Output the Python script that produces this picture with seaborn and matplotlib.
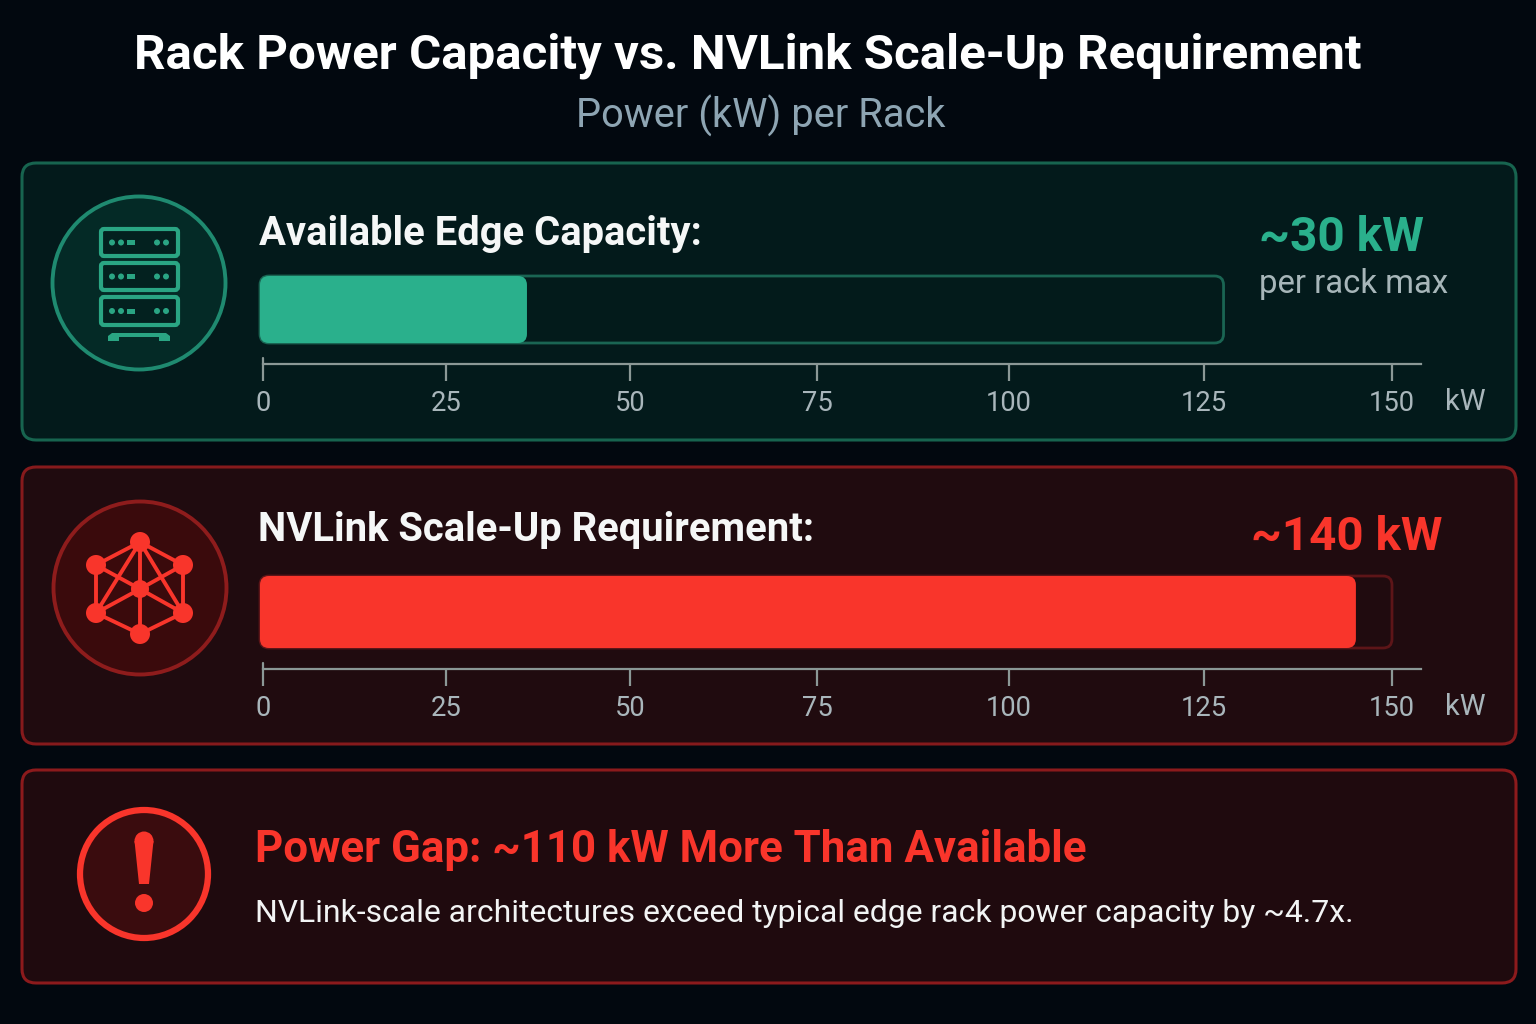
import numpy as np
import pandas as pd
import matplotlib
matplotlib.use("Agg")
import matplotlib.pyplot as plt
from matplotlib.patches import FancyBboxPatch, Circle
import seaborn as sns

# ---- data ----
row_labels = ["Available Edge Capacity:", "NVLink Scale-Up Requirement:"]
drawn_kw = [36.0, 145.2]      # where the bars end against their axis
track_kw = [127.6, 150.0]     # extent of the outlined bar tracks
value_labels = ["~30 kW", "~140 kW"]
tick_kw = [0, 25, 50, 75, 100, 125, 150]

title = "Rack Power Capacity vs. NVLink Scale-Up Requirement"
subtitle = "Power (kW) per Rack"
gap_title = "Power Gap: ~110 kW More Than Available"
gap_text = "NVLink-scale architectures exceed typical edge rack power capacity by ~4.7x."

# ---- style / layout ----
W, H = 1536, 1024
BG = "#02080f"
GREEN, RED = "#2ab08c", "#f9352b"
TICK_TXT, TICK_LN = "#a9b6bb", "#8b9896"
tick_px = [263, 446, 630, 817, 1009, 1204, 1392]   # the source axis is slightly uneven
FONT = ["Roboto", "DejaVu Sans"]

sns.set_theme(style="dark")
plt.rcParams["font.family"] = FONT
fig = plt.figure(figsize=(W / 100, H / 100), dpi=100, facecolor=BG)

ov = fig.add_axes([0, 0, 1, 1], zorder=0)
ov.set_xlim(0, W); ov.set_ylim(H, 0); ov.axis("off")


def card(y0, y1, face, edge):
    ov.add_patch(FancyBboxPatch((22, y0), 1494, y1 - y0, boxstyle="round,pad=0,rounding_size=14",
                                fc=face, ec=edge, lw=2.2))


card(163, 440, "#031a1b", "#17644f")
card(467, 744, "#200b0f", "#861a1c")
card(770, 983, "#1f0a0e", "#8c1a1c")

# ---- text ----
ov.text(748, 56, title, color="white", fontsize=35.5, fontweight="bold", ha="center", va="center")
ov.text(761, 116, subtitle, color="#8ea5b3", fontsize=28.7, ha="center", va="center")
ov.text(259, 234, row_labels[0], color="#f5f7f7", fontsize=28.8, fontweight="bold", va="center")
ov.text(258, 530, row_labels[1], color="#f5f7f7", fontsize=28.8, fontweight="bold", va="center")
ov.text(1259, 238, value_labels[0], color=GREEN, fontsize=34.4, fontweight="bold", va="center")
ov.text(1259, 284, "per rack max", color="#a7b6b9", fontsize=23.7, va="center")
ov.text(1251, 537, value_labels[1], color=RED, fontsize=34.2, fontweight="bold", va="center")
ov.text(255, 850, gap_title, color=RED, fontsize=31.6, fontweight="bold", va="center")
ov.text(255, 914, gap_text, color="#f2f4f4", fontsize=22.95, va="center")


# ---- bar panels ----
def forward(v):
    return np.interp(v, [-20] + tick_kw + [190], [263 - 150] + tick_px + [1392 + 300])


def inverse(p):
    return np.interp(p, [263 - 150] + tick_px + [1392 + 300], [-20] + tick_kw + [190])


LEFT_PX, RIGHT_PX = 260, 1421


def panel(i, axis_y, bar_top, bar_bottom, color, track_face, track_edge):
    top_px = axis_y - 100
    ax = fig.add_axes([LEFT_PX / W, 1 - axis_y / H, (RIGHT_PX - LEFT_PX) / W, 100 / H], zorder=1)
    ax.set_facecolor("none")
    centre = (bar_top + bar_bottom) / 2
    df_track = pd.DataFrame({"kW": [track_kw[i]], "row": [row_labels[i]]})
    df_bar = pd.DataFrame({"kW": [drawn_kw[i]], "row": [row_labels[i]]})
    w = (bar_bottom - bar_top) / 100
    sns.barplot(data=df_track, x="kW", y="row", orient="h", color=track_face, saturation=1,
                width=w, ax=ax, linewidth=0)
    sns.barplot(data=df_bar, x="kW", y="row", orient="h", color=color, saturation=1,
                width=w, ax=ax, linewidth=0)
    ax.set_xscale("function", functions=(forward, inverse))
    xmin, xmax = float(inverse(LEFT_PX)), float(inverse(RIGHT_PX))
    ax.set_xlim(xmin, xmax)
    ax.set_ylim((axis_y - centre) / 100, (top_px - centre) / 100)
    ax.set_xticks(tick_kw)
    ax.set_xticklabels([str(t) for t in tick_kw])
    ax.minorticks_off()
    ax.set_yticks([])
    ax.set_xlabel(""); ax.set_ylabel("")
    ax.grid(False)
    ax.tick_params(axis="x", length=12, width=1.6, color=TICK_LN, labelcolor=TICK_TXT,
                   labelsize=19.7, pad=7, bottom=True)
    for s in ("top", "left", "right"):
        ax.spines[s].set_visible(False)
    ax.spines["bottom"].set_color(TICK_LN)
    ax.spines["bottom"].set_linewidth(1.6)
    ax.spines["bottom"].set_bounds(0, xmax)
    # the zero tick also rises above the axis line
    ax.plot([0, 0], [(axis_y - centre) / 100, (axis_y - 6 - centre) / 100], color=TICK_LN,
            lw=1.6, clip_on=False)

    # round the bar corners, using the extents the axes computed
    patches = list(ax.patches)
    for k, (p, val) in enumerate(zip(patches, [track_kw[i], drawn_kw[i]])):
        p.set_x(xmin)
        p.set_width(val - xmin)
        x1 = float(forward(val))
        shape = FancyBboxPatch((LEFT_PX, bar_top), x1 - LEFT_PX, bar_bottom - bar_top,
                               boxstyle="round,pad=0,rounding_size=9",
                               transform=ov.transData, fc="none",
                               ec=track_edge if k == 0 else "none", lw=2.0,
                               clip_on=False, zorder=p.get_zorder() + (0.1 if k == 0 else -0.1))
        if k == 0:
            ax.add_artist(shape)
        p.set_clip_path(shape)
        if k == 1:
            p.set_zorder(patches[0].get_zorder() + 0.5)
    ax.set_xlim(xmin, xmax)
    ov.text(1465, axis_y + 38, "kW", color=TICK_TXT, fontsize=21, ha="center", va="center")


panel(0, 364, 276, 343, GREEN, "#031b1b", "#1a6553")
panel(1, 669, 576, 648, RED, "#200b0f", "#5d1518")


# ---- icons ----
def rrect(x0, y0, x1, y1, r, **kw):
    ov.add_patch(FancyBboxPatch((x0, y0), x1 - x0, y1 - y0,
                                boxstyle=f"round,pad=0,rounding_size={r}", **kw))


# server rack
ov.add_patch(Circle((139, 283), 86.5, fc="#042a26", ec="#1f8a70", lw=2.8))
for y0, y1 in [(229, 256), (263, 290), (297, 325)]:
    rrect(101, y0, 178, y1, 3, fc="#03211f", ec="#2aa583", lw=3)
    yc = (y0 + y1) / 2
    for x in (112, 121, 157, 166):
        ov.add_patch(Circle((x, yc), 3, fc="#2aa583", ec="none"))
    ov.fill([127, 135, 135, 127], [yc - 2.5, yc - 2.5, yc + 2.5, yc + 2.5], color="#2aa583", lw=0)
ov.fill([112, 166, 170, 170, 159, 159, 119, 119, 108, 108],
        [333, 333, 336, 341, 341, 337, 337, 341, 341, 336], color="#2aa583", lw=0)

# network
ov.add_patch(Circle((140, 588), 86.5, fc="#3a0a0c", ec="#8e1c1c", lw=2.8))
nodes = {"t": (140, 542), "ul": (96, 565), "ur": (183, 565), "ll": (96, 613),
         "lr": (183, 613), "b": (140, 634), "c": (140, 589)}
edges = ["t ul", "t ur", "ul ll", "ur lr", "ll b", "lr b", "t c", "ul c", "ur c", "ll c", "lr c",
         "b c", "t ll", "t lr"]
for e in edges:
    a, b = e.split()
    ov.plot([nodes[a][0], nodes[b][0]], [nodes[a][1], nodes[b][1]], color=RED, lw=2.8,
            solid_capstyle="round")
for k, (x, y) in nodes.items():
    ov.add_patch(Circle((x, y), 9 if k == "c" else 10, fc=RED, ec="none", zorder=3))

# alert
ov.add_patch(Circle((144, 874), 64, fc="#3a0c0e", ec=RED, lw=4.5))
ov.fill([134.5, 153.5, 149, 139], [841, 841, 884, 884], color=RED, lw=0)
ov.add_patch(Circle((144, 841), 9.5, fc=RED, ec="none"))
ov.add_patch(Circle((144, 903), 9, fc=RED, ec="none"))

fig.savefig("out.png", dpi=100, facecolor=BG)
